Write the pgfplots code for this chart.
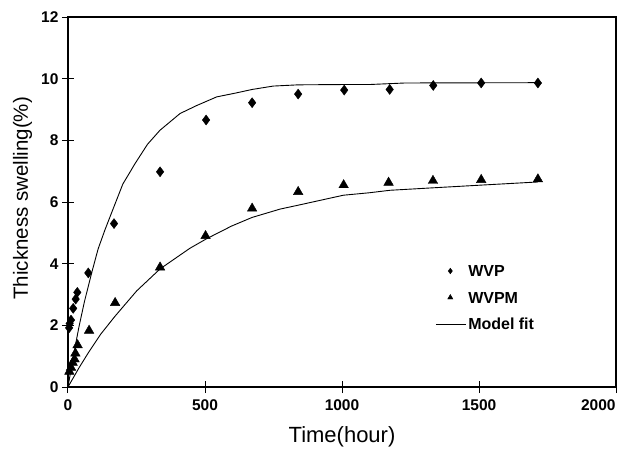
\documentclass[border=0pt]{standalone}
\usepackage{pgfplots}
\pgfplotsset{compat=1.18}
\usepackage{fontspec}
\setmainfont{Liberation Sans}
\begin{document}
\begin{tikzpicture}
\useasboundingbox (-68pt,-61pt) rectangle (563pt,387pt);
\begin{axis}[
  at={(0,0)}, anchor=south west,
  scale only axis, width=548pt, height=370pt,
  xmin=0, xmax=2000, ymin=0, ymax=12,
  xtick={0,500,1000,1500,2000},
  xticklabels={0,500,1000,1500,\makebox[0pt][r]{2000}\hspace*{1pt}},
  ytick={0,2,4,6,8,10,12},
  xtick pos=left, ytick pos=left,
  tick align=center, major tick length=12pt,
  axis line style={line width=1.1pt},
  every tick/.style={black, line width=1pt},
  /pgf/number format/assume math mode=true,
  /pgf/number format/1000 sep={},
  tick label style={font=\fontsize{15.5}{17}\selectfont\bfseries},
  xticklabel style={yshift=-3pt},
  xlabel={Time(hour)}, ylabel={Thickness swelling(\%)},
  xlabel style={font=\fontsize{22}{24}\selectfont, at={(axis description cs:0.5,-0.151)}, anchor=base},
  ylabel style={font=\fontsize{20.5}{24}\selectfont, at={(axis description cs:-0.073,0.51)}, anchor=base},
  legend cell align=left,
  legend style={draw=none, fill=none, at={(0.67,0.335)}, anchor=north west,
    inner sep=0pt, row sep=11pt,
    font=\fontsize{16}{18}\selectfont\bfseries,
    nodes={inner sep=2pt, text height=11.5pt, text depth=0pt}},
]
\addplot[only marks, mark=diamond*, mark size=5pt, black,
  legend image code/.code={\draw[black, only marks, mark=diamond*, mark size=2.8pt] plot coordinates {(14.5pt,0pt)};}]
  coordinates {
  (4,1.92) (6,2.06) (11,2.17) (19,2.55) (28,2.85) (34,3.07) (74,3.70)
  (168,5.30) (336,6.98) (504,8.66) (672,9.22) (840,9.50) (1008,9.63)
  (1174,9.65) (1333,9.78) (1508,9.86) (1715,9.86)};
\addlegendentry{WVP}
\addplot[only marks, mark=triangle*, mark size=5.5pt, black,
  legend image code/.code={\draw[black, only marks, mark=triangle*, mark size=3pt] plot coordinates {(14.5pt,0pt)};}]
  coordinates {
  (5,0.50) (11,0.63) (17,0.79) (24,0.90) (27,1.09) (35,1.36) (77,1.83)
  (172,2.73) (336,3.88) (502,4.90) (672,5.79) (840,6.33) (1006,6.55)
  (1170,6.63) (1332,6.69) (1508,6.72) (1715,6.74)};
\addlegendentry{WVPM}
\addplot[black, line width=0.9pt,
  legend image code/.code={\draw[black, line width=0.9pt] (0pt,0pt) -- (30pt,0pt);}]
  coordinates {
  (0,0) (20,1.03) (40,1.95) (60,2.77) (86,3.69) (110,4.48) (135,5.10)
  (163,5.74) (200,6.58) (245,7.25) (290,7.87) (336,8.33) (409,8.87)
  (470,9.13) (543,9.41) (610,9.53) (672,9.65) (749,9.76) (840,9.80)
  (1008,9.81) (1100,9.81) (1230,9.86) (1715,9.87)};
\addlegendentry{Model fit}
\addplot[black, line width=0.9pt, forget plot]
  coordinates {
  (0,0) (40,0.62) (77,1.15) (120,1.72) (172,2.30) (251,3.12) (336,3.83)
  (445,4.50) (504,4.80) (597,5.22) (672,5.50) (774,5.77) (847,5.91)
  (1005,6.22) (1100,6.30) (1175,6.38) (1332,6.46) (1512,6.55) (1715,6.65)};
\end{axis}
\end{tikzpicture}
\end{document}
